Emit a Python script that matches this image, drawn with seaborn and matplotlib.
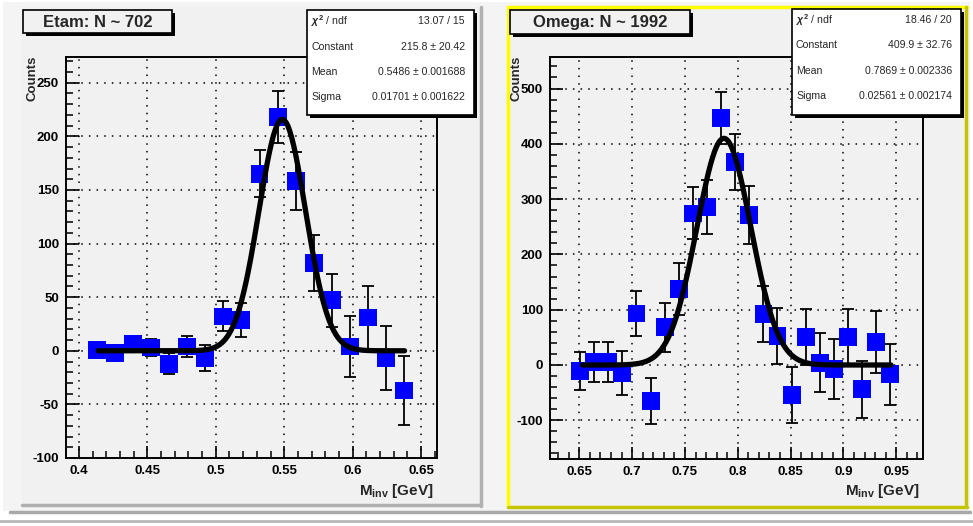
import numpy as np
import matplotlib
matplotlib.use("Agg")
import matplotlib.pyplot as plt
from matplotlib.patches import Rectangle
from matplotlib.lines import Line2D
from matplotlib.ticker import MultipleLocator, FormatStrFormatter
import seaborn as sns

# eta meson invariant mass peak
eta_mass = [0.4129, 0.4261, 0.4393, 0.4526, 0.4658, 0.4790, 0.4923, 0.5055, 0.5187,
            0.5320, 0.5452, 0.5584, 0.5717, 0.5849, 0.5981, 0.6113, 0.6246, 0.6378]
eta_counts = [1, -2, 6, 3, -12, 4, -7, 32, 29, 165, 218, 158, 82, 47, 4, 31, -7, -37]
eta_err = [6, 6, 6, 8, 10, 10, 12, 14, 16, 22, 24, 27, 26, 25, 28, 29, 30, 32]
eta_fit = (215.8, 0.5486, 0.01701)
eta_fit_range = (0.414, 0.638)
eta_stats = [(r"$\chi^2$ / ndf", "13.07 / 15"),
             ("Constant", "215.8 \u00b1 20.42"),
             ("Mean", "0.5486 \u00b1 0.001688"),
             ("Sigma", "0.01701 \u00b1 0.001622")]

# omega meson invariant mass peak
omega_mass = [0.6507, 0.6641, 0.6774, 0.6908, 0.7041, 0.7175, 0.7308, 0.7442, 0.7575,
              0.7709, 0.7842, 0.7976, 0.8109, 0.8243, 0.8376, 0.8510, 0.8643, 0.8777,
              0.8910, 0.9044, 0.9177, 0.9311, 0.9444]
omega_counts = [-11, 5, 5, -14, 93, -65, 68, 137, 274, 285, 446, 367, 271, 92, 52, -54,
                51, 4, -7, 50, -44, 42, -17]
omega_err = [34, 36, 36, 40, 40, 41, 45, 47, 47, 49, 47, 51, 52, 50, 51, 50, 51, 53,
             54, 52, 51, 56, 55]
omega_fit = (409.9, 0.7869, 0.02561)
omega_fit_range = (0.653, 0.945)
omega_stats = [(r"$\chi^2$ / ndf", "18.46 / 20"),
               ("Constant", "409.9 \u00b1 32.76"),
               ("Mean", "0.7869 \u00b1 0.002336"),
               ("Sigma", "0.02561 \u00b1 0.002174")]

sns.set_theme(style="ticks")
plt.rcParams["font.family"] = ["Liberation Sans", "DejaVu Sans"]
plt.rcParams["font.weight"] = "bold"
plt.rcParams["mathtext.fontset"] = "custom"
plt.rcParams["mathtext.rm"] = "Liberation Sans"
plt.rcParams["mathtext.it"] = "Liberation Sans:italic"
plt.rcParams["mathtext.bf"] = "Liberation Sans:bold"

W, H = 973, 526
PAD = "#f1f1f1"
fig = plt.figure(figsize=(W / 100, H / 100), dpi=100, facecolor="white")


def rect(x0, y0, x1, y1, z=-2, **kw):
    fig.add_artist(Rectangle((x0 / W, 1 - y1 / H), (x1 - x0) / W, (y1 - y0) / H,
                             transform=fig.transFigure, zorder=z, **kw))


def line(x0, y0, x1, y1, z=-1, **kw):
    fig.add_artist(Line2D([x0 / W, x1 / W], [1 - y0 / H, 1 - y1 / H],
                          transform=fig.transFigure, zorder=z, **kw))


def ftext(x, y, s, **kw):
    fig.text(x / W, 1 - y / H, s, **kw)


# canvas and pads
rect(3, 2, 970, 511, facecolor="#f4f4f4", edgecolor="none", z=-3)
line(10, 512, 970, 512, color="#a8a8a8", lw=2.5)
line(0, 521, 973, 521, color="#b8b8b8", lw=2)
rect(22, 7, 481, 505, facecolor=PAD, edgecolor="none")
line(481, 7, 481, 506, color="#b0b0b0", lw=2.5)
line(22, 505, 481, 505, color="#b0b0b0", lw=2.5)
rect(508, 7, 967, 507, facecolor=PAD, edgecolor="none")
line(508, 7, 508, 507, color="#ffff00", lw=2.5)
line(508, 7, 967, 7, color="#ffff00", lw=2.5)
line(966, 7, 966, 507, color="#c4c400", lw=2.5)
line(508, 507, 967, 507, color="#c4c400", lw=2.5)

panels = [
    dict(box=(66, 57, 437, 458), x=eta_mass, y=eta_counts, err=eta_err, fit=eta_fit,
         rng=eta_fit_range, xlim=(0.3905, 0.6617), ylim=(-100, 274), ymaj=50, ymin=10,
         title="Etam: N ~ 702", tbox=(23, 10, 172, 33),
         sbox=(307, 10, 474, 115), stats=eta_stats, sx=(311, 465)),
    dict(box=(550, 57, 923, 459), x=omega_mass, y=omega_counts, err=omega_err,
         fit=omega_fit, rng=omega_fit_range, xlim=(0.6223, 0.9753), ylim=(-170, 557),
         ymaj=100, ymin=20, title="Omega: N ~ 1992", tbox=(510, 10, 690, 34),
         sbox=(792, 9, 961, 115), stats=omega_stats, sx=(796, 952)),
]

for p in panels:
    x0, y0, x1, y1 = p["box"]
    ax = fig.add_axes([x0 / W, 1 - y1 / H, (x1 - x0) / W, (y1 - y0) / H])
    ax.set_facecolor(PAD)

    ax.errorbar(p["x"], p["y"], yerr=p["err"], fmt="none", ecolor="black",
                elinewidth=1.3, capsize=4.5, capthick=1.3, zorder=2)
    sns.scatterplot(x=p["x"], y=p["y"], marker="s", s=165, color="#0000ff",
                    edgecolor="none", linewidth=0, ax=ax, zorder=3)

    amp, mu, sig = p["fit"]
    xf = np.linspace(p["rng"][0], p["rng"][1], 300)
    yf = amp * np.exp(-0.5 * ((xf - mu) / sig) ** 2)
    sns.lineplot(x=xf, y=yf, color="black", lw=3.8, ax=ax, zorder=4)

    ax.set_xlim(*p["xlim"])
    ax.set_ylim(*p["ylim"])
    ax.xaxis.set_major_locator(MultipleLocator(0.05))
    ax.xaxis.set_minor_locator(MultipleLocator(0.01))
    ax.yaxis.set_major_locator(MultipleLocator(p["ymaj"]))
    ax.yaxis.set_minor_locator(MultipleLocator(p["ymin"]))
    ax.xaxis.set_major_formatter(FormatStrFormatter("%g"))
    ax.yaxis.set_major_formatter(FormatStrFormatter("%g"))
    ax.tick_params(which="major", direction="in", length=9, width=1.2,
                   labelsize=9.5, colors="black", pad=5)
    ax.tick_params(which="minor", direction="in", length=5, width=1.1, colors="black")
    ax.tick_params(top=False, right=False, which="both")
    ax.grid(True, which="major", color="black", linestyle=(0, (1, 4)), linewidth=1.1)
    ax.set_axisbelow(True)
    for s in ax.spines.values():
        s.set_color("black")
        s.set_linewidth(1.4)
    ax.set_xlabel("")
    ax.set_ylabel("")

    ftext(x0 - 33, y0 - 1, "Counts", rotation=90, ha="center", va="top", fontsize=9.5)
    ftext(x1 - 3, 491, r"M$_{\mathbf{inv}}$ [GeV]", ha="right", va="center", fontsize=11)

    # title box with shadow
    bx0, by0, bx1, by1 = p["tbox"]
    rect(bx0 + 3, by0 + 3, bx1 + 3, by1 + 3, z=5, facecolor="black", edgecolor="none")
    rect(bx0, by0, bx1, by1, z=6, facecolor=PAD, edgecolor="black", lw=1.2)
    ftext((bx0 + bx1) / 2, (by0 + by1) / 2 + 1, p["title"], ha="center", va="center",
          fontsize=12, zorder=7)

    # fit statistics box with shadow
    sx0, sy0, sx1, sy1 = p["sbox"]
    rect(sx0 + 3, sy0 + 3, sx1 + 3, sy1 + 3, z=5, facecolor="black", edgecolor="none")
    rect(sx0, sy0, sx1, sy1, z=6, facecolor="white", edgecolor="black", lw=1.2)
    for i, (lab, val) in enumerate(p["stats"]):
        yy = sy0 + 11 + i * 25.5
        ftext(p["sx"][0], yy, lab, ha="left", va="center", fontsize=7.6,
              fontweight="normal", zorder=7)
        ftext(p["sx"][1], yy, val, ha="right", va="center", fontsize=7.6,
              fontweight="normal", zorder=7)

fig.savefig("out.png", dpi=100, facecolor="white")
